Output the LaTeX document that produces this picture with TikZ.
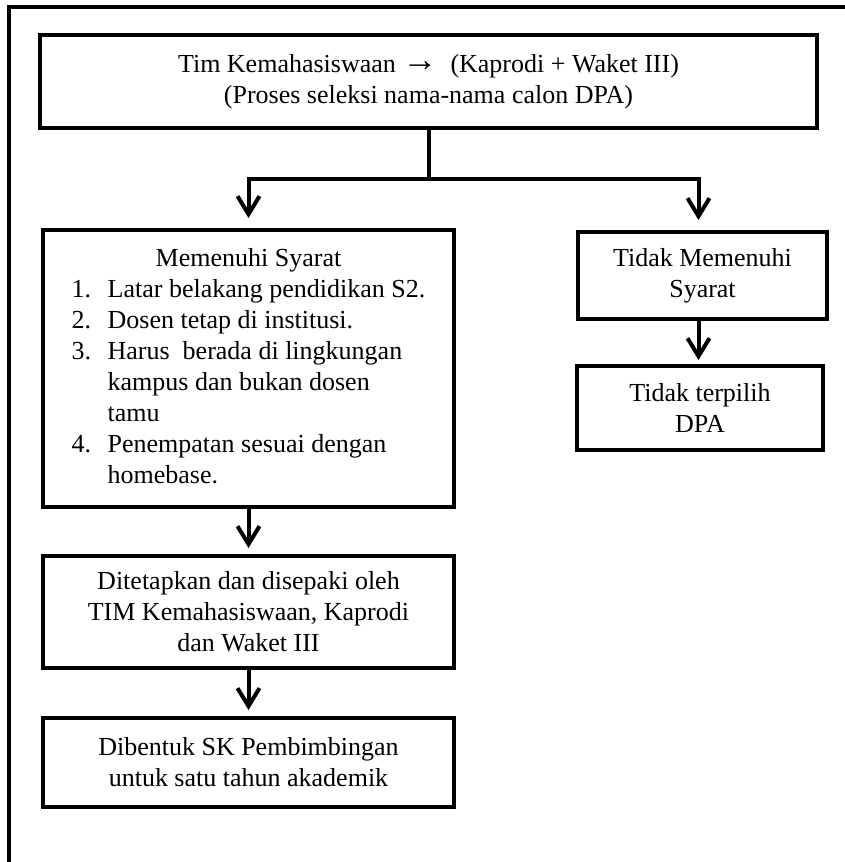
\documentclass[tikz,border=0pt]{standalone}
\usepackage{fontspec}
\setmainfont{Liberation Serif}
\usetikzlibrary{arrows.meta}

\begin{document}
\begin{tikzpicture}[x=0.5pt,y=-0.5pt,>={Straight Barb[length=9pt,width=11pt]},
  every node/.style={font=\fontsize{13}{15.5}\selectfont},
  kotak/.style={draw,line width=2pt,align=center,inner sep=0pt},
  panah/.style={->,line width=2pt,shorten >=3pt}]
\useasboundingbox (0,0) rectangle (845,862);
\draw[line width=2pt] (845,7) -- (9,7) -- (9,862);
\node[kotak,minimum width=388.5pt,minimum height=46.5pt] (seleksi) at (428.5,81.5)
  {Tim Kemahasiswaan \raisebox{0.5pt}{\scalebox{1.35}{\textbf{→}}}\ \ (Kaprodi + Waket III)\\(Proses seleksi nama-nama calon DPA)};
\node[kotak,minimum width=205.5pt,minimum height=138.5pt] (syarat) at (248.5,368.5)
  {\begin{tabular}{@{}p{18pt}@{}l@{}}
   \multicolumn{2}{c}{Memenuhi Syarat}\\
   1. & Latar belakang pendidikan S2.\\
   2. & Dosen tetap di institusi.\\
   3. & Harus\ \ berada di lingkungan\\
      & kampus dan bukan dosen\\
      & tamu\\
   4. & Penempatan sesuai dengan\\
      & homebase.
   \end{tabular}};
\node[kotak,minimum width=124.5pt,minimum height=43.5pt] (tidaksyarat) at (702.5,275.5) {Tidak Memenuhi\\Syarat};
\node[kotak,minimum width=123pt,minimum height=42pt] (tidakpilih) at (700,408) {Tidak terpilih\\DPA};
\node[kotak,minimum width=205.5pt,minimum height=56pt] (ditetapkan) at (248.5,612)
  {Ditetapkan dan disepaki oleh\\TIM Kemahasiswaan, Kaprodi\\dan Waket III};
\node[kotak,minimum width=205.5pt,minimum height=44.5pt] (sk) at (248.5,762.5)
  {Dibentuk SK Pembimbingan\\untuk satu tahun akademik};
% percabangan
\coordinate (cabang) at (428.5,179);
\draw[line width=2pt] (seleksi.south) -- (cabang);
\draw[panah,shorten >=5pt] (cabang) -| (syarat.north);
\draw[panah,shorten >=5pt] (cabang) -| ([xshift=-2pt]tidaksyarat.north);
\draw[panah] (syarat) -- (ditetapkan);
\draw[panah] (ditetapkan) -- (sk);
\draw[panah,shorten >=2pt] ([xshift=-2pt]tidaksyarat.south) -- ([xshift=-0.75pt]tidakpilih.north);
\end{tikzpicture}
\end{document}
